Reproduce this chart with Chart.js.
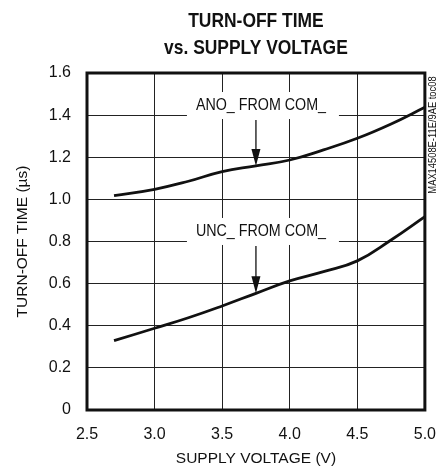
<!DOCTYPE html>
<html>
<head>
<meta charset="utf-8">
<script src="https://cdn.jsdelivr.net/npm/chart.js@4.4.0/dist/chart.umd.min.js"></script>
<style>
  html, body { margin: 0; padding: 0; background: #fff; }
  #wrap { width: 440px; height: 469px; }
</style>
</head>
<body>
<div id="wrap"><canvas id="c" width="440" height="469"></canvas></div>
<script>
// supply voltage (V)
const voltage = [2.7, 3.0, 3.25, 3.5, 3.75, 4.0, 4.25, 4.5, 4.75, 5.0];
// turn-off time (us)
const anoFromCom = [1.018, 1.048, 1.086, 1.132, 1.159, 1.187, 1.235, 1.29, 1.358, 1.437];
const uncFromCom = [0.329, 0.388, 0.438, 0.494, 0.554, 0.613, 0.657, 0.708, 0.807, 0.918];

const titleLines = ['TURN-OFF TIME', 'vs. SUPPLY VOLTAGE'];
const xTitle = 'SUPPLY VOLTAGE (V)';
const yTitle = 'TURN-OFF TIME (\u00b5s)';
const partCode = 'MAX14508E-11E/9AE toc08';

const FONT = "'Liberation Sans', Arial, sans-serif";

// curve callouts: label centre in data units, arrow points at the curve
const callouts = [
  { text: 'ANO_ FROM COM_', x: 3.75, y: 1.448, data: anoFromCom, idx: 4 },
  { text: 'UNC_ FROM COM_', x: 3.75, y: 0.85, data: uncFromCom, idx: 4 }
];

function toPoints(arr){
  return voltage.map((v, i) => ({ x: v, y: arr[i] }));
}

// narrow-looking text: squeeze horizontally
function narrowText(ctx, text, x, y, sx){
  ctx.save();
  ctx.translate(x, y);
  ctx.scale(sx, 1);
  ctx.fillText(text, 0, 0);
  ctx.restore();
}

const calloutPlugin = {
  id: 'callouts',
  beforeDatasetsDraw(chart){
    const ctx = chart.ctx;
    const xs = chart.scales.x, ys = chart.scales.y;
    ctx.save();
    callouts.forEach(c => {
      const cx = xs.getPixelForValue(c.x);
      const cy = ys.getPixelForValue(c.y);
      ctx.fillStyle = '#fff';
      ctx.fillRect(cx - 69, cy - 13, 152, 27);
    });
    ctx.restore();
  },
  afterDatasetsDraw(chart){
    const ctx = chart.ctx;
    const xs = chart.scales.x, ys = chart.scales.y;
    ctx.save();
    ctx.font = '17px ' + FONT;
    ctx.fillStyle = '#111';
    ctx.strokeStyle = '#111';
    ctx.textAlign = 'center';
    ctx.textBaseline = 'middle';
    callouts.forEach(c => {
      const cx = xs.getPixelForValue(c.x);
      const cy = ys.getPixelForValue(c.y);
      narrowText(ctx, c.text, cx + 5, cy, 0.84);
      const tipY = ys.getPixelForValue(c.data[c.idx]);
      const startY = cy + 15;
      ctx.lineWidth = 1.3;
      ctx.beginPath();
      ctx.moveTo(cx, startY);
      ctx.lineTo(cx, tipY - 14);
      ctx.stroke();
      ctx.beginPath();
      ctx.moveTo(cx - 4.5, tipY - 17);
      ctx.lineTo(cx + 4.5, tipY - 17);
      ctx.lineTo(cx, tipY);
      ctx.closePath();
      ctx.fill();
    });
    ctx.restore();
  },
  afterDraw(chart){
    const ctx = chart.ctx;
    const a = chart.chartArea;
    ctx.save();
    // plot frame
    ctx.strokeStyle = '#111';
    ctx.lineWidth = 3;
    ctx.strokeRect(a.left, a.top, a.right - a.left, a.bottom - a.top);
    // title
    ctx.fillStyle = '#111';
    ctx.textAlign = 'center';
    ctx.textBaseline = 'middle';
    ctx.font = 'bold 21px ' + FONT;
    const mid = (a.left + a.right) / 2;
    narrowText(ctx, titleLines[0], mid, 21, 0.83);
    narrowText(ctx, titleLines[1], mid, 48, 0.83);
    // part code, rotated
    ctx.font = '11px ' + FONT;
    ctx.translate(433, 135);
    ctx.rotate(-Math.PI / 2);
    ctx.scale(0.85, 1);
    ctx.fillText(partCode, 0, 0);
    ctx.restore();
  }
};

const ctx = document.getElementById('c').getContext('2d');
new Chart(ctx, {
  type: 'line',
  data: {
    datasets: [
      { label: 'ANO_ FROM COM_', data: toPoints(anoFromCom) },
      { label: 'UNC_ FROM COM_', data: toPoints(uncFromCom) }
    ]
  },
  options: {
    responsive: false,
    animation: false,
    layout: { padding: { top: 73, right: 4, left: 0, bottom: 0 } },
    elements: {
      line: { borderColor: '#111', borderWidth: 2.8, tension: 0.45, fill: false, capBezierPoints: true },
      point: { radius: 0 }
    },
    plugins: {
      legend: { display: false },
      title: { display: false },
      tooltip: { enabled: false }
    },
    scales: {
      x: {
        type: 'linear',
        min: 2.5,
        max: 5.0,
        afterFit(scale){ scale.height = 59; },
        border: { display: false },
        grid: { color: '#222', lineWidth: 1, drawTicks: true, tickLength: 11, tickColor: 'rgba(0,0,0,0)' },
        ticks: {
          stepSize: 0.5,
          padding: 4,
          color: '#111',
          font: { family: FONT, size: 16 },
          callback: v => v.toFixed(1)
        },
        title: {
          display: true,
          text: xTitle,
          color: '#111',
          font: { family: FONT, size: 15.5, lineHeight: 1.2 },
          padding: { top: 0, bottom: 1 }
        }
      },
      y: {
        min: 0,
        max: 1.6,
        afterFit(scale){ scale.width = 87; },
        border: { display: false },
        grid: { color: '#222', lineWidth: 1, drawTicks: false },
        ticks: {
          stepSize: 0.2,
          padding: 16,
          color: '#111',
          font: { family: FONT, size: 16 },
          callback: v => (Math.abs(v) < 1e-9 ? '0' : v.toFixed(1))
        },
        title: {
          display: true,
          text: yTitle,
          color: '#111',
          font: { family: FONT, size: 15.5, lineHeight: 1.2 },
          padding: { top: 13, bottom: 0 }
        }
      }
    }
  },
  plugins: [calloutPlugin]
});
</script>
</body>
</html>
